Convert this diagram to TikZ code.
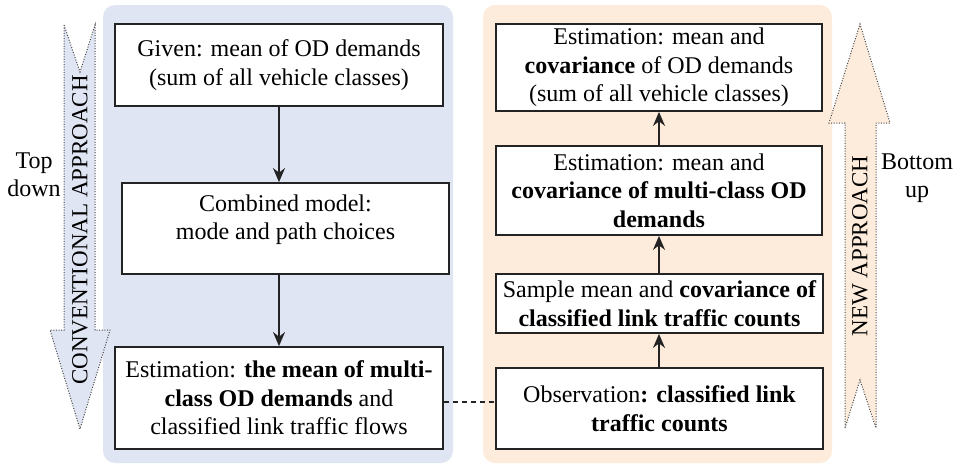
\documentclass[tikz,border=0pt]{standalone}
\usepackage{fontspec}
\setmainfont{Liberation Serif}
\usetikzlibrary{arrows.meta}

\definecolor{bluepanel}{RGB}{224,229,243}
\definecolor{orangepanel}{RGB}{253,236,219}
\definecolor{boxline}{RGB}{35,35,35}
\definecolor{dotline}{RGB}{70,70,70}

\tikzset{
  panel/.style={rounded corners=12pt, draw=none},
  stepbox/.style={draw=boxline, line width=1.8pt, fill=white, inner sep=0pt,
    align=center, font=\fontsize{24}{28.5}\selectfont},
  flow/.style={line width=1.5pt, draw=boxline,
    -{Stealth[length=14pt,width=12pt]}},
  bigarrow/.style={draw=dotline, line width=1pt, dash pattern=on 1pt off 1.6pt},
  sidelabel/.style={align=center, font=\fontsize{24}{28}\selectfont},
  arrowlabel/.style={font=\fontsize{23}{26}\selectfont, rotate=90, inner sep=0pt},
}

\begin{document}
\begin{tikzpicture}[x=1pt,y=-1pt]
  \useasboundingbox (0,0) rectangle (954,466);

  % background panels
  \fill[panel, bluepanel] (103,5) rectangle (453,463);
  \fill[panel, orangepanel] (483,5) rectangle (832,463);

  % top-down arrow
  \draw[bigarrow, fill=bluepanel]
    (64,25) -- (80,72) -- (95,25) -- (95,330) -- (110,330) -- (80,429)
    -- (50,330) -- (64,330) -- cycle;
  \node[arrowlabel] (conv) at (80,230) {CONVENTIONAL APPROACH};

  % bottom-up arrow
  \draw[bigarrow, fill=orangepanel]
    (845,428) -- (860,380) -- (876,428) -- (876,123) -- (890,123) -- (860,24)
    -- (829,123) -- (845,123) -- cycle;
  \node[arrowlabel] (new) at (860,246) {NEW APPROACH};

  % side captions
  \node[sidelabel] (topdown) at (34,175) {Top\\down};
  \node[sidelabel] (bottomup) at (917,178) {Bottom\\up};

  % conventional chain
  \node[stepbox, minimum width=328pt, minimum height=82pt] (L1) at (279,65)
    {Given: mean of OD demands\\(sum of all vehicle classes)};
  \node[stepbox, minimum width=327pt, minimum height=91pt] (L2) at (285.5,228.5)
    {Combined model:\\mode and path choices\\[-14pt]\strut};
  \node[stepbox, minimum width=328pt, minimum height=102pt] (L3) at (279,398)
    {Estimation: \textbf{the mean of multi-}\\\textbf{class OD demands} and\\classified link traffic flows};

  % new chain
  \node[stepbox, minimum width=326pt, minimum height=87pt] (R1) at (659,67.5)
    {Estimation: mean and\\\textbf{covariance} of OD demands\\(sum of all vehicle classes)};
  \node[stepbox, minimum width=326pt, minimum height=89pt] (R2) at (659,190.5)
    {Estimation: mean and\\\textbf{covariance of multi-class OD}\\\textbf{demands}};
  \node[stepbox, minimum width=327pt, minimum height=59pt] (R3) at (659.5,303.5)
    {Sample mean and \textbf{covariance of}\\\textbf{classified link traffic counts}};
  \node[stepbox, minimum width=327pt, minimum height=81pt] (R4) at (659.5,408.5)
    {Observation\textbf{: classified link}\\\textbf{traffic counts}};

  % connectors
  \draw[flow] (L1.south) -- (L1.south |- L2.north);
  \draw[flow] (L1.south |- L2.south) -- (L1.south |- L3.north);
  \draw[flow] (R4.north -| R2.south) -- (R3.south -| R2.south);
  \draw[flow] (R3.north -| R2.south) -- (R2.south);
  \draw[flow] (R2.north) -- (R1.south);
  \draw[line width=1.2pt, draw=boxline, dash pattern=on 5pt off 4pt]
    ([yshift=-4pt]L3.east) -- ([yshift=-4pt]L3.east -| R4.west);
\end{tikzpicture}
\end{document}
